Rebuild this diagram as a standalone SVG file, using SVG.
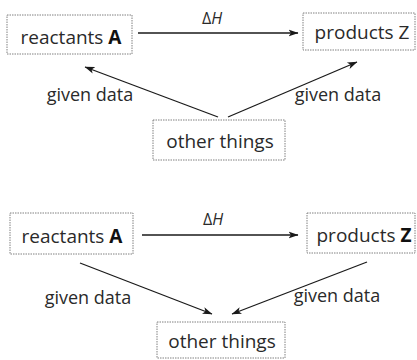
<svg xmlns="http://www.w3.org/2000/svg" width="417" height="360" viewBox="0 0 417 360">
<defs>
<style>
.box{fill:#fff;stroke:#808080;stroke-width:1;stroke-dasharray:1.5 1}
.t{font-family:"Open Sans","Noto Sans",sans-serif;font-size:19px;fill:#2a2a2a;text-anchor:middle}
.lbl{font-family:"Open Sans","Noto Sans",sans-serif;font-size:18px;fill:#2a2a2a;text-anchor:middle}
.dh{font-family:"Open Sans","Noto Sans",sans-serif;font-size:16px;fill:#2a2a2a}
.b{font-weight:bold;fill:#111}
.c{stroke:#1a1a1a;stroke-width:1.3;fill:none}
</style>
<marker id="ah" viewBox="0 0 10 10" refX="9.5" refY="5" markerWidth="10" markerHeight="10" markerUnits="userSpaceOnUse" orient="auto">
<path d="M0,1.5 L10,5 L0,8.5 L2.5,5 Z" fill="#1a1a1a"/>
</marker>
</defs>
<rect width="417" height="360" fill="#fff"/>
<g id="connectors">
<line class="c" x1="138" y1="33" x2="298" y2="33" marker-end="url(#ah)"/>
<line class="c" x1="218" y1="117" x2="85" y2="67" marker-end="url(#ah)"/>
<line class="c" x1="228" y1="117" x2="357" y2="62" marker-end="url(#ah)"/>
<line class="c" x1="142" y1="235" x2="298" y2="235" marker-end="url(#ah)"/>
<line class="c" x1="80" y1="263" x2="212" y2="314" marker-end="url(#ah)"/>
<line class="c" x1="367" y1="262" x2="232" y2="314" marker-end="url(#ah)"/>
<text class="dh" x="202" y="24">Δ<tspan font-style="italic">H</tspan></text>
<text class="dh" x="203" y="225">Δ<tspan font-style="italic">H</tspan></text>
<text class="lbl" x="90" y="101">given data</text>
<text class="lbl" x="338" y="101">given data</text>
<text class="lbl" x="88" y="304">given data</text>
<text class="lbl" x="337" y="302">given data</text>
</g>
<g id="reactants1">
<rect class="box" x="7" y="15" width="125" height="39"/>
<text class="t" x="71" y="44">reactants <tspan class="b">A</tspan></text>
</g>
<g id="products1">
<rect class="box" x="303" y="13" width="112" height="37"/>
<text class="t" x="362" y="39">products Z</text>
</g>
<g id="other1">
<rect class="box" x="153" y="120" width="132" height="40"/>
<text class="t" x="220" y="148">other things</text>
</g>
<g id="reactants2">
<rect class="box" x="10" y="213" width="123" height="41"/>
<text class="t" x="72" y="243">reactants <tspan class="b">A</tspan></text>
</g>
<g id="products2">
<rect class="box" x="307" y="213" width="108" height="40"/>
<text class="t" x="364" y="242">products <tspan class="b">Z</tspan></text>
</g>
<g id="other2">
<rect class="box" x="157" y="322" width="128" height="36"/>
<text class="t" x="222" y="348">other things</text>
</g>
</svg>
